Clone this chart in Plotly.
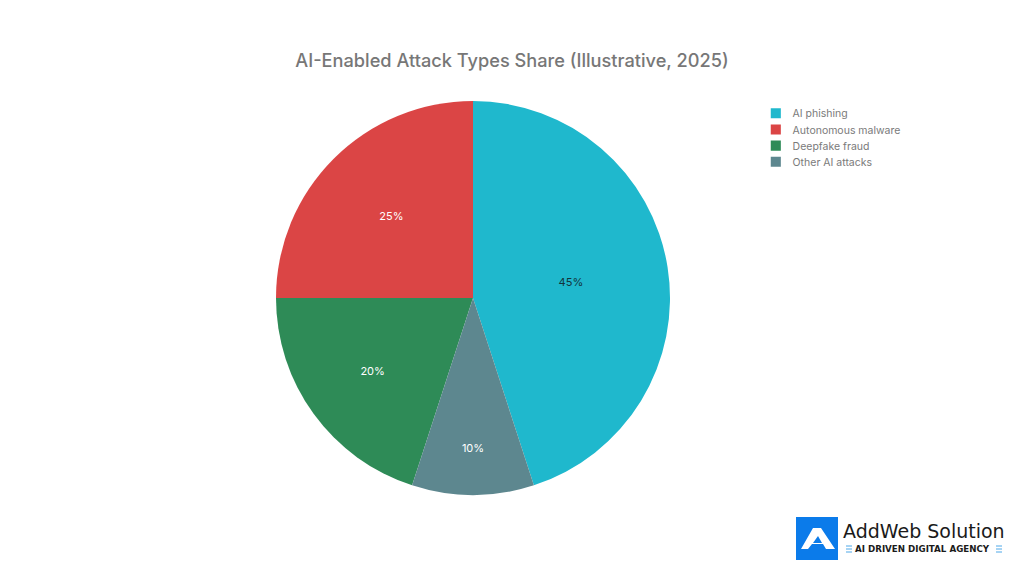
import plotly.graph_objects as go

labels = ['AI phishing', 'Autonomous malware', 'Deepfake fraud', 'Other AI attacks']
shares = [45, 25, 20, 10]
colors = ['#1FB8CD', '#DB4545', '#2E8B57', '#5D878F']
text_colors = ['#13343B', '#FFFFFF', '#FFFFFF', '#FFFFFF']
title = 'AI-Enabled Attack Types Share (Illustrative, 2025)'
logo_name = 'AddWeb Solution'
logo_tag = 'AI DRIVEN DIGITAL AGENCY'

W, H = 1024, 576

fig = go.Figure(go.Pie(
    labels=labels,
    values=shares,
    sort=False,
    direction='counterclockwise',
    rotation=0,
    marker=dict(colors=colors),
    textinfo='percent',
    textposition='inside',
    insidetextorientation='horizontal',
    insidetextfont=dict(color=text_colors, size=11),
    domain=dict(x=[276 / W, 670 / W], y=[1 - 495 / H, 1 - 101 / H]),
))

# logo, drawn in pixel positions on the page
def px_x(v):
    return v / W

def px_y(v):
    return 1 - v / H

def poly(points):
    return 'M ' + ' L '.join(f'{px_x(a)} {px_y(b)}' for a, b in points) + ' Z'

fig.add_shape(type='rect', xref='paper', yref='paper', x0=px_x(796), x1=px_x(838),
    y0=px_y(517), y1=px_y(560), fillcolor='#0B7BEA', line_width=0, layer='above')
fig.add_shape(type='path', xref='paper', yref='paper',
    path=poly([(801, 549), (813, 528), (821, 528), (835, 549), (826, 549), (823, 544), (812, 544), (808, 549)]),
    fillcolor='white', line_width=0, layer='above')
fig.add_shape(type='path', xref='paper', yref='paper',
    path=poly([(818, 536), (822, 543), (813, 543)]),
    fillcolor='#0B7BEA', line_width=0, layer='above')

# little circuit marks either side of the tag line
for x0, x1 in [(846, 852), (996, 1002)]:
    for y in [546, 549, 552]:
        fig.add_shape(type='line', xref='paper', yref='paper', x0=px_x(x0), x1=px_x(x1),
            y0=px_y(y), y1=px_y(y), line=dict(color='#4FA8E8', width=1), layer='above')

fig.add_annotation(x=px_x(841), y=px_y(531), xref='paper', yref='paper', text=logo_name,
    showarrow=False, xanchor='left', yanchor='middle',
    font=dict(family='DejaVu Sans', size=19, color='#1a1a1a'))
fig.add_annotation(x=px_x(853), y=px_y(549), xref='paper', yref='paper', text='<b>' + logo_tag + '</b>',
    showarrow=False, xanchor='left', yanchor='middle',
    font=dict(family='DejaVu Sans', size=8.7, color='#1a1a1a'))

fig.update_layout(
    width=W,
    height=H,
    margin=dict(l=0, r=0, t=0, b=0),
    paper_bgcolor='white',
    font=dict(family='Inter, sans-serif', color='#7a7a7a', size=12),
    title=dict(text=title, x=512 / W, xanchor='center', y=1 - 61 / H, yanchor='middle',
        font=dict(size=18.2, color='#777777', weight=500)),
    legend=dict(x=759 / W, y=1 - 101 / H, xanchor='left', yanchor='top',
        font=dict(size=12.5, color='#7a7a7a')),
)

# page margin off, legend shrunk a bit since plotly won't go below its 19px rows
post = """
document.body.style.margin = '0';
var lg = document.querySelector('.legend');
lg.setAttribute('transform', lg.getAttribute('transform') + ' scale(0.84)');
"""
fig.write_html('out.html', post_script=post, config={'displayModeBar': False})
